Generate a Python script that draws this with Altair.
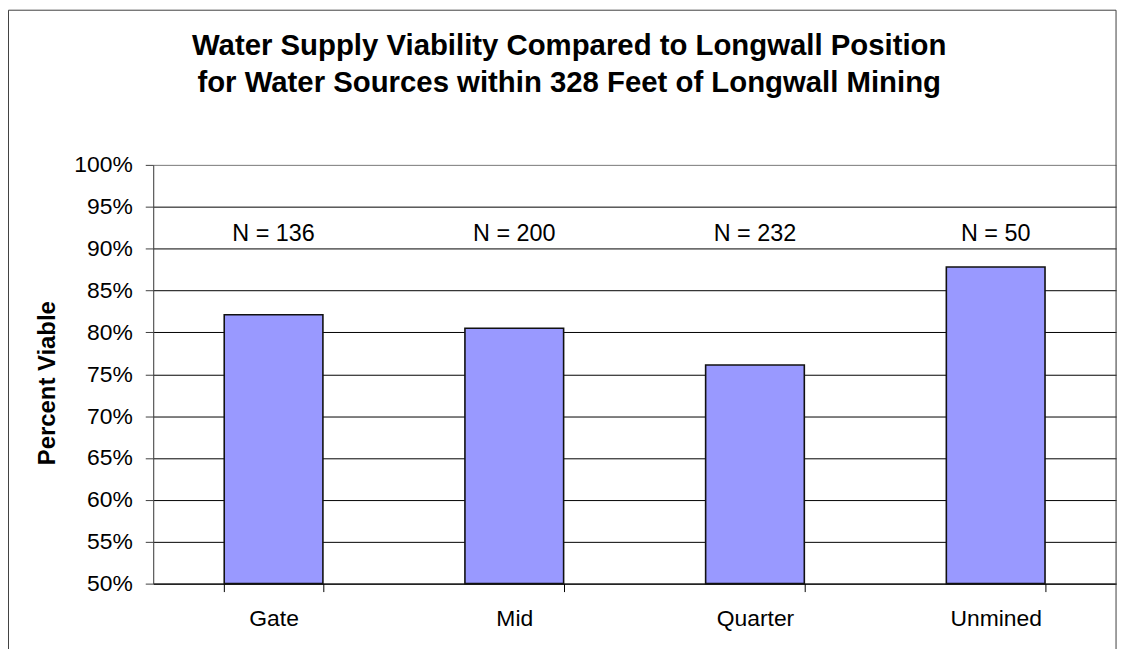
import altair as alt
import pandas as pd

categories = ["Gate", "Mid", "Quarter", "Unmined"]
percent_viable = [0.821, 0.805, 0.761, 0.878]
sample_sizes = ["N = 136", "N = 200", "N = 232", "N = 50"]
y_ticks = [0.50, 0.55, 0.60, 0.65, 0.70, 0.75, 0.80, 0.85, 0.90, 0.95, 1.00]

df = pd.DataFrame({"position": categories, "viable": percent_viable, "n": sample_sizes})

FONT = "Liberation Sans"

x_enc = alt.X(
    "position:N",
    sort=categories,
    scale=alt.Scale(paddingInner=0.59, paddingOuter=0.295),
    axis=alt.Axis(
        title=None, labelAngle=0, labelFontSize=23, labelFont=FONT, labelColor="black",
        tickBand="extent", tickSize=8, tickColor="black", domainColor="black",
        labelPadding=16, grid=False,
    ),
)

y_enc = alt.Y(
    "viable:Q",
    scale=alt.Scale(domain=[0.5, 1.0], zero=False, nice=False),
    axis=alt.Axis(
        title="Percent Viable", titleFontSize=24, titleFont=FONT, titleFontWeight="bold",
        titleColor="black", titleX=-106, titleY=219, titleAlign="center",
        titleBaseline="middle", titleAngle=-90,
        values=y_ticks, format=".0%", labelFontSize=23, labelFont=FONT, labelColor="black",
        labelPadding=13, tickSize=8, tickColor="#404040", domainColor="#404040",
        grid=True,
        gridColor=alt.condition(alt.datum.value >= 0.999, alt.value("#808080"), alt.value("black")),
        gridWidth=1,
    ),
)

bars = alt.Chart(df).mark_bar(fill="#9999FF", stroke="#111111", strokeWidth=1.6).encode(
    x=x_enc, y=y_enc, y2=alt.datum(0.5)
)

labels = alt.Chart(df).mark_text(
    font=FONT, fontSize=23.5, color="black", baseline="middle", align="center"
).encode(
    x=alt.X("position:N", sort=categories),
    y=alt.datum(0.918),
    text="n:N",
)

border = alt.Chart(pd.DataFrame({"b": [0]})).mark_rect(
    fill=None, stroke="#404040", strokeWidth=1
).encode(
    x=alt.value(-145.5), x2=alt.value(968), y=alt.value(-155.5), y2=alt.value(700)
)

chart = alt.layer(border, bars, labels).properties(
    width=968,
    height=421,
    title=alt.Title(
        ["Water Supply Viability Compared to Longwall Position",
         "for Water Sources within 328 Feet of Longwall Mining"],
        fontSize=29.5, font=FONT, fontWeight="bold", color="black",
        lineHeight=37, anchor="middle", frame="bounds", dx=7, offset=-89,
    ),
    autosize=alt.AutoSizeParams(type="none"),
    padding={"left": 146, "top": 156, "right": 6, "bottom": 64},
).configure_view(stroke="#808080", strokeWidth=1).configure(background="white")

chart.save("out.html", embed_options={"renderer": "svg", "actions": False})
